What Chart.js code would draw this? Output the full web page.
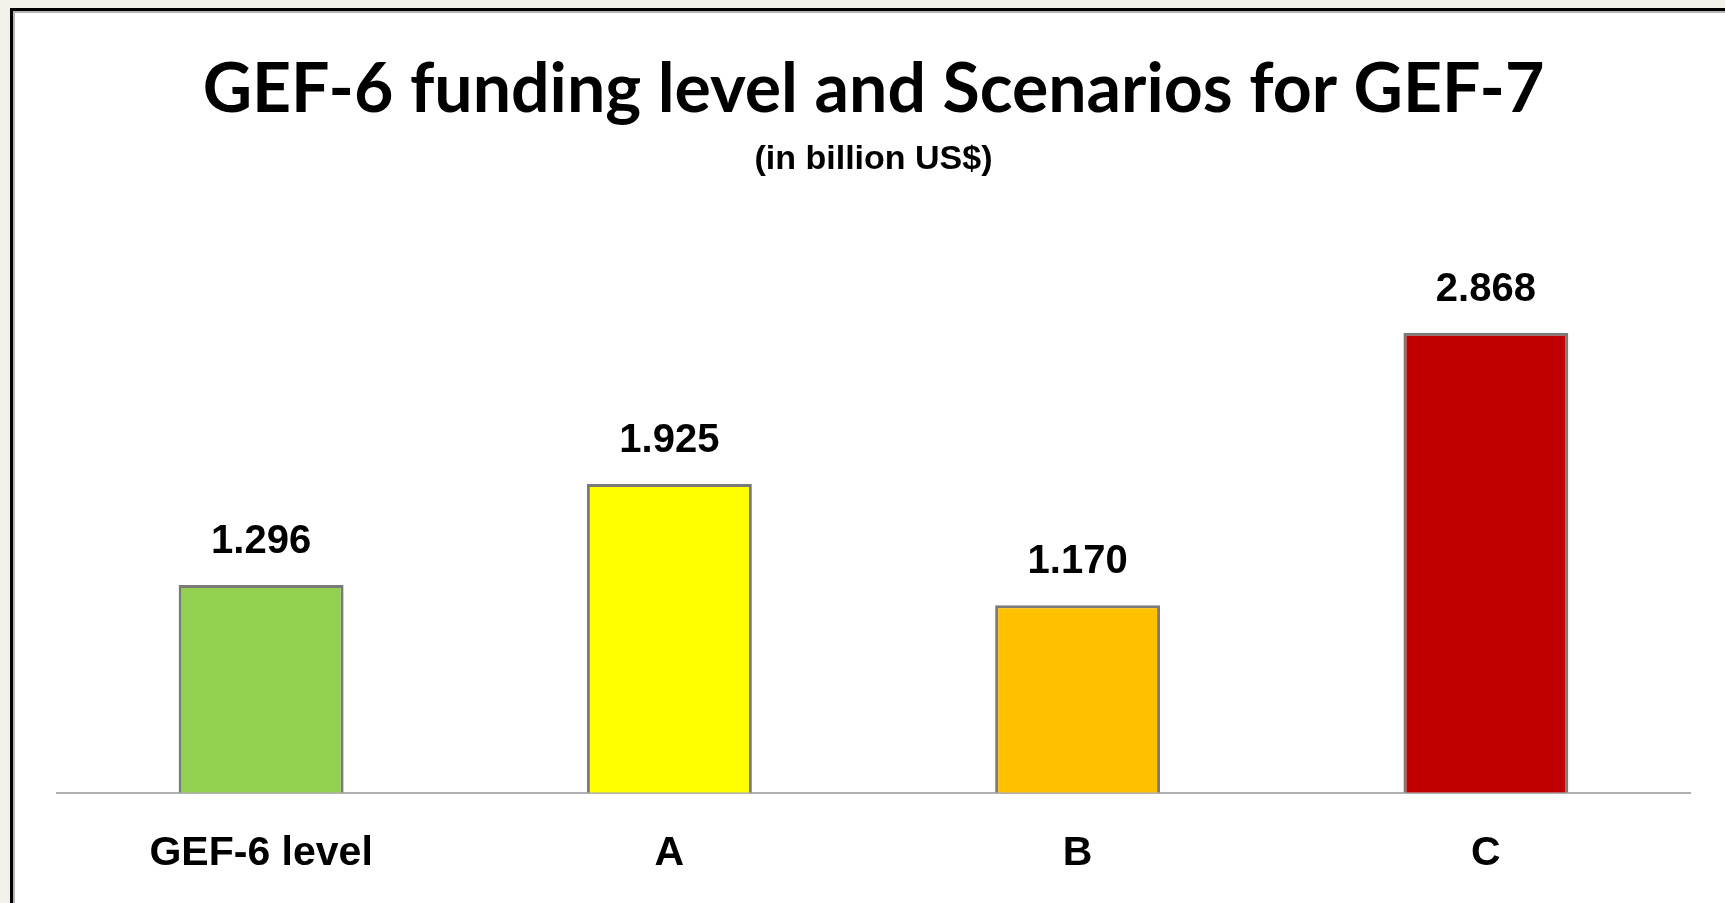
<!DOCTYPE html>
<html>
<head>
<meta charset="utf-8">
<script src="https://cdn.jsdelivr.net/npm/chart.js@4.4.1/dist/chart.umd.min.js"></script>
<style>
  html, body { margin: 0; padding: 0; background: #f1f1ea; overflow: hidden; }
  #frame {
    position: absolute; left: 10px; top: 8px; width: 1715px; height: 910px;
    border-top: 3px solid #000; border-left: 3px solid #000;
    box-sizing: border-box; background: #fff;
  }
  #inner {
    position: absolute; left: 0; top: 0; right: 0; bottom: 0;
    border-top: 2px solid #b4b4b4; border-left: 2px solid #b4b4b4;
  }
  #wrap { position: absolute; left: 0; top: 0; width: 1710px; height: 903px; }
</style>
</head>
<body>
<div id="frame"><div id="inner"></div><div id="wrap"><canvas id="canvas"></canvas></div></div>
<script>
const categories = ["GEF-6 level", "A", "B", "C"];
const values = [1.296, 1.925, 1.170, 2.868];
const valueLabels = ["1.296", "1.925", "1.170", "2.868"];
const barColors = ["#92d050", "#ffff00", "#ffc000", "#c00000"];

const sans = "'Liberation Sans', Arial, sans-serif";

// values above the bars
const valueLabelPlugin = {
  id: "valueLabels",
  afterDatasetsDraw(chart) {
    const ctx = chart.ctx;
    const meta = chart.getDatasetMeta(0);
    ctx.save();
    ctx.font = "bold 40px " + sans;
    ctx.fillStyle = "#000";
    ctx.textAlign = "center";
    ctx.textBaseline = "middle";
    meta.data.forEach((bar, i) => {
      ctx.fillText(valueLabels[i], bar.x, bar.y - 43);
    });
    ctx.restore();
  }
};

const ctx = document.getElementById("canvas").getContext("2d");

const plot = new Chart(ctx, {
  type: "bar",
  data: {
    labels: categories,
    datasets: [
      {
        data: values,
        backgroundColor: barColors,
        borderColor: "#7a7a7a",
        borderWidth: 3,
        barPercentage: 0.404,
        categoryPercentage: 1
      }
    ]
  },
  options: {
    responsive: true,
    maintainAspectRatio: false,
    animation: false,
    layout: {
      padding: { left: 44, right: 33, top: 0, bottom: 0 }
    },
    plugins: {
      legend: { display: false },
      tooltip: { enabled: false },
      title: {
        display: true,
        text: "GEF-6 funding level and Scenarios for GEF-7",
        color: "#000",
        font: { family: "Lato, 'Open Sans', sans-serif", size: 68, weight: "bold" },
        padding: { top: 38, bottom: 9 }
      },
      subtitle: {
        display: true,
        text: "(in billion US$)",
        color: "#000",
        font: { family: sans, size: 34, weight: "bold" },
        padding: { top: 0, bottom: 51 }
      }
    },
    scales: {
      x: {
        grid: { display: false, drawTicks: false },
        border: { display: true, color: "#b0b0b0", width: 2 },
        ticks: {
          color: "#000",
          padding: 36,
          font: { family: sans, size: 41, weight: "bold" }
        }
      },
      y: {
        display: false,
        min: 0,
        max: 3.5
      }
    }
  },
  plugins: [valueLabelPlugin]
});
</script>
</body>
</html>
